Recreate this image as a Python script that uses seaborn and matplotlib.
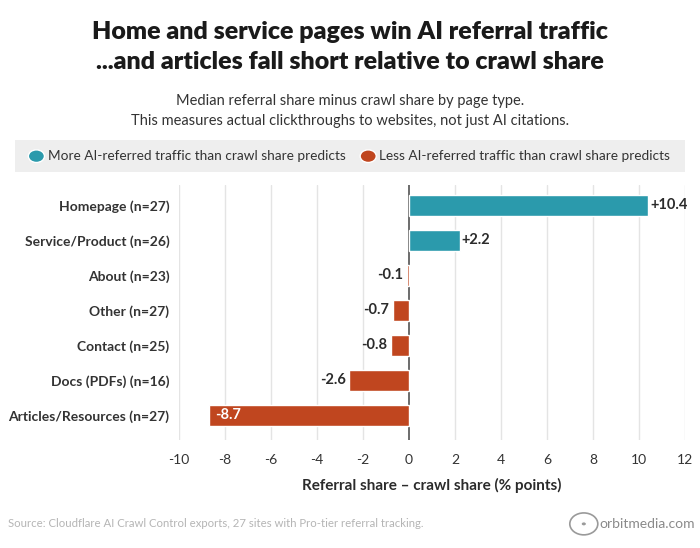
import pandas as pd
import matplotlib.pyplot as plt
import seaborn as sns
from matplotlib.patches import Rectangle, Circle

# données
categories = ['Homepage (n=27)', 'Service/Product (n=26)', 'About (n=23)', 'Other (n=27)',
              'Contact (n=25)', 'Docs (PDFs) (n=16)', 'Articles/Resources (n=27)']
values = [10.4, 2.2, -0.1, -0.7, -0.8, -2.6, -8.7]
labels = ['+10.4', '+2.2', '-0.1', '-0.7', '-0.8', '-2.6', '-8.7']
x_ticks = [-10, -8, -6, -4, -2, 0, 2, 4, 6, 8, 10, 12]

TEAL = '#2b9aac'
RED = '#c0461f'
DARK = '#2b2b2b'

sns.set_theme(style="white")
plt.rcParams['font.family'] = ['Lato', 'DejaVu Sans']

df = pd.DataFrame({'page': categories, 'delta': values})
df['sign'] = ['pos' if v > 0 else 'neg' for v in values]

fig = plt.figure(figsize=(7, 5.48), dpi=100)
ax = fig.add_axes([0.2557, 0.197, 0.7229, 0.465])

sns.barplot(data=df, x='delta', y='page', hue='sign', palette={'pos': TEAL, 'neg': RED},
            dodge=False, width=0.6, legend=False, ax=ax, saturation=1)

ax.set_xlim(-10, 12)
ax.set_ylim(6.71, -0.57)
ax.set_xticks(x_ticks)
ax.set_xticklabels([str(t) for t in x_ticks], fontsize=10, color='#333333')
ax.tick_params(axis='x', length=4, color='#cccccc', pad=6)
ax.tick_params(axis='y', length=0, pad=7)
for lbl in ax.get_yticklabels():
    lbl.set_fontsize(10)
    lbl.set_color('#333333')
    lbl.set_fontweight('bold')
for t in x_ticks:
    if t != 0:
        ax.axvline(t, color='#e4e4e4', lw=1, zorder=0)
ax.axvline(0, color='#444444', lw=1.1, zorder=0.8)
for s in ax.spines.values():
    s.set_visible(False)
ax.set_ylabel('')
ax.set_xlabel('Referral share – crawl share (% points)', fontsize=11, color=DARK,
              labelpad=9, fontweight='bold')

for i, (v, lab) in enumerate(zip(values, labels)):
    if v < -5:
        ax.text(v + 0.25, i, lab, va='center', ha='left', color='white', fontsize=10.5,
                fontweight='bold', zorder=6)
    elif v > 0:
        ax.text(v + 0.08, i, lab, va='center', ha='left', color=DARK, fontsize=10.5,
                fontweight='bold', zorder=6)
    else:
        ax.text(v - 0.15, i, lab, va='center', ha='right', color=DARK, fontsize=10.5,
                fontweight='bold', zorder=6)

# titre et sous-titre
fig.text(0.5, 0.941, 'Home and service pages win AI referral traffic', ha='center', va='center',
         fontsize=18, fontweight='heavy', color='#1a1a1a')
fig.text(0.5, 0.886, '...and articles fall short relative to crawl share', ha='center', va='center',
         fontsize=18, fontweight='heavy', color='#1a1a1a')
fig.text(0.5, 0.816, 'Median referral share minus crawl share by page type.', ha='center',
         va='center', fontsize=10.5, color='#333333')
fig.text(0.5, 0.780, 'This measures actual clickthroughs to websites, not just AI citations.',
         ha='center', va='center', fontsize=10.5, color='#333333')

# légende
fig.patches.append(Rectangle((0.022, 0.686), 0.956, 0.058, transform=fig.transFigure,
                             facecolor='#eeeeee', edgecolor='none'))
fig.patches.append(Circle((0.052, 0.715), 0.0115, transform=fig.transFigure, facecolor=TEAL))
fig.text(0.068, 0.715, 'More AI-referred traffic than crawl share predicts', va='center',
         fontsize=9.8, color='#333333')
fig.patches.append(Circle((0.526, 0.715), 0.0115, transform=fig.transFigure, facecolor=RED))
fig.text(0.542, 0.715, 'Less AI-referred traffic than crawl share predicts', va='center',
         fontsize=9.8, color='#333333')

# source et logo
fig.text(0.012, 0.044, 'Source: Cloudflare AI Crawl Control exports, 27 sites with Pro-tier referral tracking.',
         va='center', fontsize=8.2, color='#b5b5b5')
fig.patches.append(Circle((0.834, 0.044), 0.02, transform=fig.transFigure, facecolor='none',
                          edgecolor='#9a9a9a', lw=1.2))
fig.patches.append(Circle((0.834, 0.044), 0.004, transform=fig.transFigure, facecolor='#9a9a9a'))
fig.text(0.856, 0.044, 'orbitmedia.com', va='center', fontsize=10, color='#8a8a8a')

fig.savefig('out.png', dpi=100)
